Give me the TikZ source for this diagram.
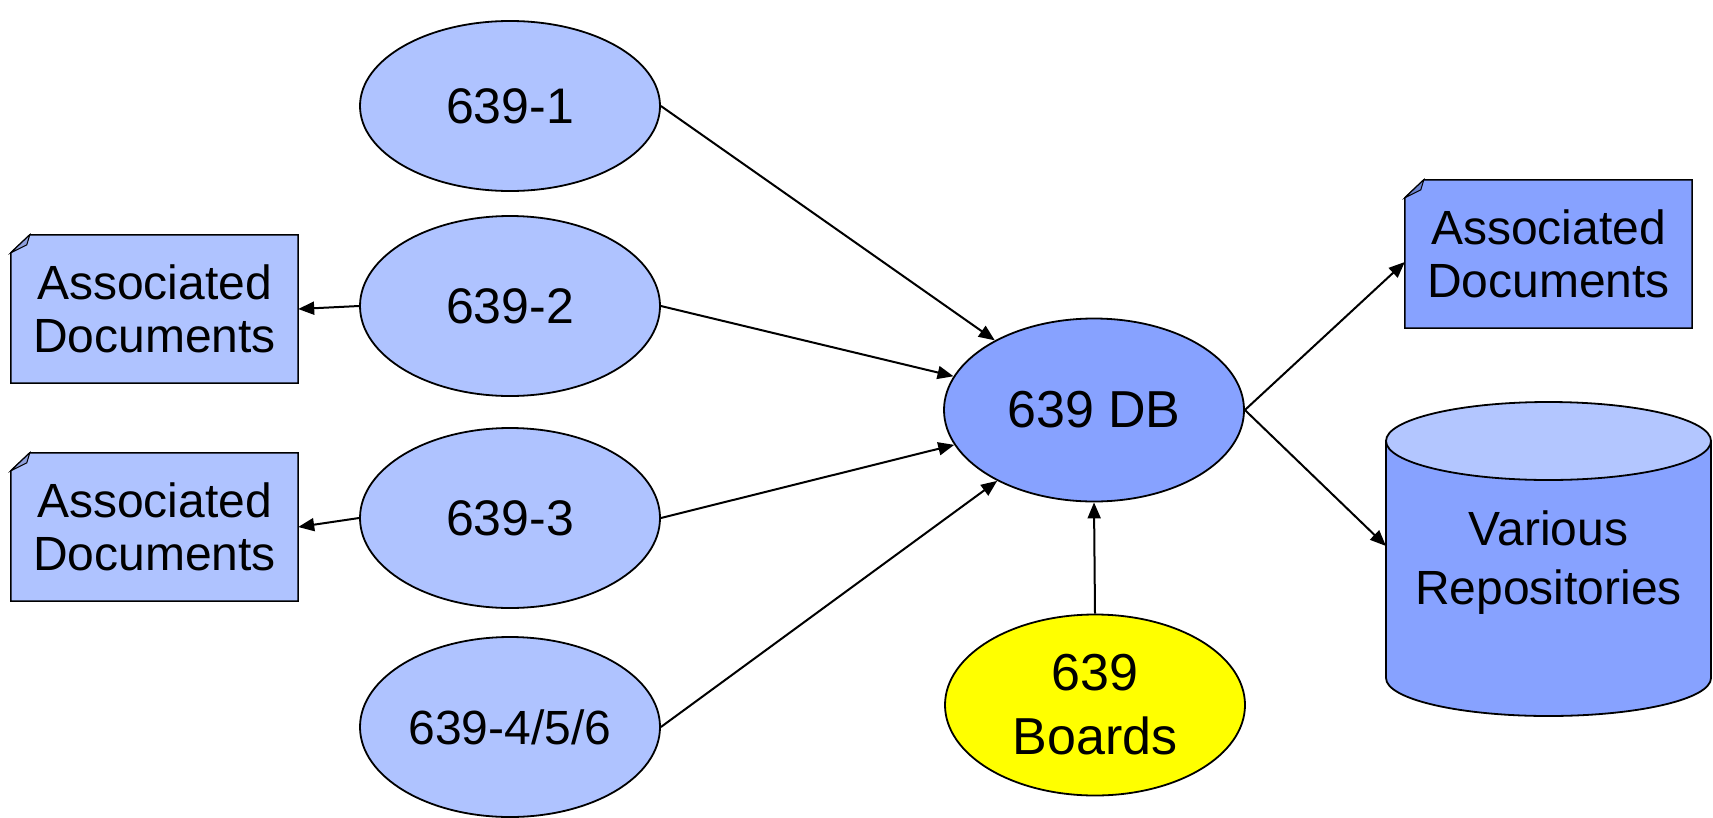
\documentclass[tikz,border=0pt]{standalone}
\usepackage{fontspec}
\setmainfont{Liberation Sans}
\usetikzlibrary{shapes.geometric,arrows.meta,backgrounds}
\definecolor{lightb}{HTML}{AFC3FF}
\definecolor{darkb}{HTML}{87A2FF}
\definecolor{cyltop}{HTML}{B3C6FF}
\definecolor{foldlight}{HTML}{8E9FDC}
\definecolor{folddark}{HTML}{6A82D0}
\definecolor{yel}{HTML}{FFFF00}
\newcommand\docoutline[3]{%
  \begin{pgfonlayer}{background}
  \filldraw[fill=#2,draw=black,line width=1.5pt]
    ([yshift=-18pt]#1.north west) -- ([xshift=19pt]#1.north west) -- (#1.north east)
    -- (#1.south east) -- (#1.south west) -- cycle;
  \filldraw[fill=#3,draw=black,line width=1pt]
    ([yshift=-18pt]#1.north west) -- ([xshift=19pt]#1.north west)
    .. controls ([xshift=17pt,yshift=-5pt]#1.north west) .. ([xshift=16pt,yshift=-10pt]#1.north west)
    -- cycle;
  \end{pgfonlayer}}
\begin{document}
\begin{tikzpicture}[x=1pt,y=-1pt,
  ell/.style={ellipse,draw=black,line width=1.8pt,minimum width=300pt,minimum height=180pt,
    inner sep=0pt,fill=lightb,font=\fontsize{50pt}{56pt}\selectfont,align=center},
  docbox/.style={rectangle,minimum width=287pt,minimum height=148pt,inner sep=0pt,
    font=\fontsize{48pt}{53pt}\selectfont,align=center},
  arr/.style={line width=2pt,-{Triangle[length=16pt,width=13pt]}}]
\useasboundingbox (0,0) rectangle (1713,817);

% ellipses
\node[ell,minimum height=170pt] (n1) at (510,106) {639-1};
\node[ell] (n2) at (510,306) {639-2};
\node[ell] (n3) at (510,518) {639-3};
\node[ell,font=\fontsize{48pt}{54pt}\selectfont] (n4) at (510,727) {639-4/5/6};
\node[ell,fill=darkb,minimum height=183pt,font=\fontsize{52pt}{58pt}\selectfont] (db) at (1094,410) {639 DB};
\node[ell,fill=yel,minimum height=181pt,font=\fontsize{52pt}{64pt}\selectfont] (boards) at (1095,705) {639\\Boards};

% documents
\node[docbox] (doc1) at (154.5,309) {Associated\\Documents};
\node[docbox] (doc2) at (154.5,527) {Associated\\Documents};
\node[docbox,minimum height=148pt] (doc3) at (1548.5,254) {Associated\\Documents};
\docoutline{doc1}{lightb}{foldlight}
\docoutline{doc2}{lightb}{foldlight}
\docoutline{doc3}{darkb}{folddark}

% cylinder
\filldraw[fill=darkb,draw=black,line width=1.8pt]
  (1386,441) -- (1386,678) arc[start angle=180,end angle=360,x radius=162.5pt,y radius=38pt]
  -- (1711,441) -- cycle;
\filldraw[fill=cyltop,draw=black,line width=1.8pt] (1548.5,441) ellipse[x radius=162.5pt,y radius=39pt];
\node[font=\fontsize{48pt}{59pt}\selectfont,align=center] (repo) at (1548.5,563) {Various\\Repositories};
\coordinate (repoIn) at (1386,546);

% connectors
\draw[arr] (n2.west) -- (doc1.east);
\draw[arr] (n3.west) -- (doc2.east);
\draw[arr] (n1.east) -- (db);
\draw[arr] (n2.east) -- (db);
\draw[arr] (n3.east) -- (db);
\draw[arr] (n4.east) -- (db);
\draw[arr] (boards.north) -- (db.south);
\draw[arr] (db.east) -- ([yshift=-8pt]doc3.west);
\draw[arr] (db.east) -- (repoIn);
\end{tikzpicture}
\end{document}
